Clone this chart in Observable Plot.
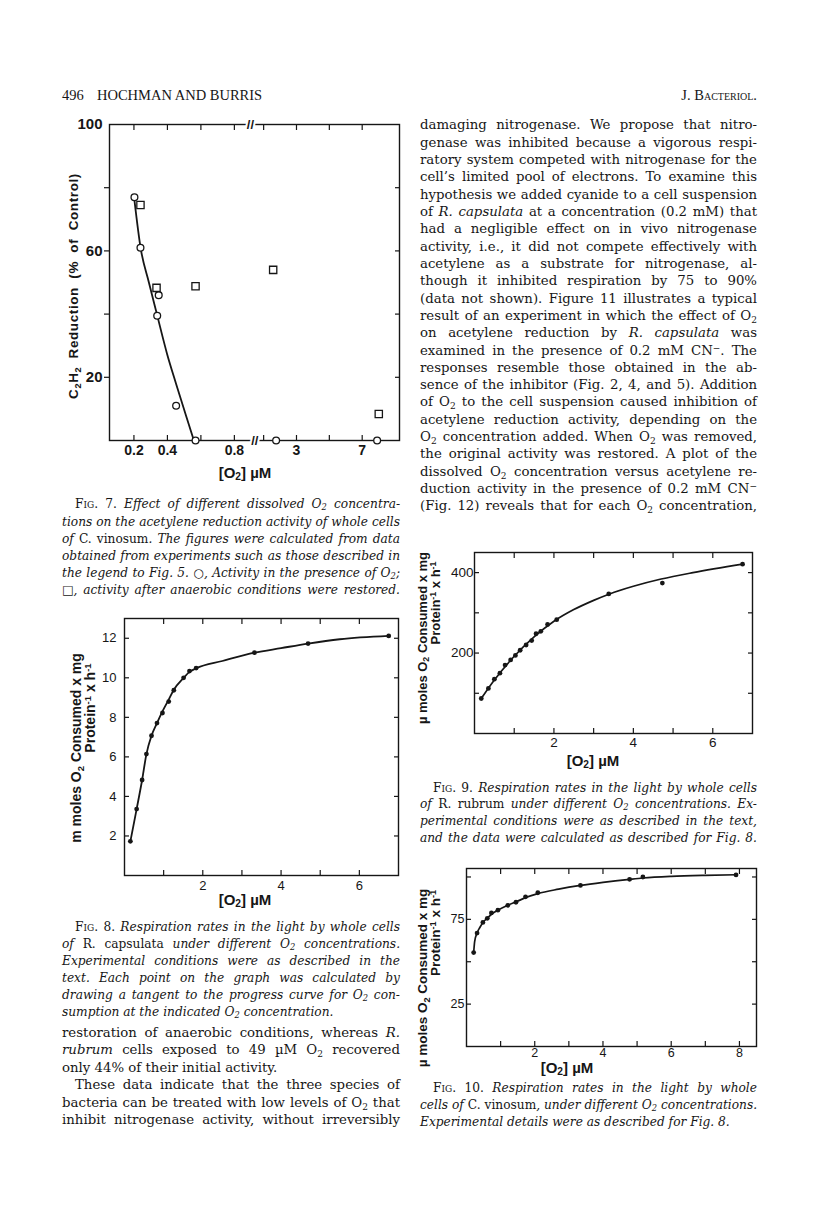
<!DOCTYPE html>
<html><head><meta charset="utf-8">
<script src="https://cdn.jsdelivr.net/npm/d3@7"></script>
<script src="https://cdn.jsdelivr.net/npm/@observablehq/plot@0.6"></script>
<style>
html,body{margin:0;padding:0;background:#fff;}
#page{position:relative;width:816px;height:1231px;overflow:hidden;background:#fff;color:#161616;}
.ln{position:absolute;white-space:nowrap;font-family:"DejaVu Serif",serif;}
.cap{font-style:italic;}
.sc{font-style:normal;font-variant:small-caps;}
.rm{font-style:normal;}
sub{font-size:0.68em;vertical-align:-0.28em;line-height:0;}
sup{font-size:0.68em;vertical-align:0.45em;line-height:0;}
.lab{position:absolute;white-space:nowrap;font-family:"Liberation Sans",Arial,sans-serif;font-weight:bold;color:#161616;line-height:1;}
.plot{position:absolute;}
</style></head><body><div id="page"></div>
<script>
// ---------------- DATA ----------------
// Fig. 7 (broken x axis)
const fig7CircleX = [0.203, 0.239, 0.339, 0.348, 0.452, 0.568, 1.76, 7.91];
const fig7CircleY = [77, 61, 39.5, 46, 11, 0, 0, 0];
const fig7SquareX = [0.239, 0.335, 0.568, 1.58, 8.01];
const fig7SquareY = [74.5, 48.3, 48.8, 54, 8.4];
const fig7CurveX = [0.203, 0.239, 0.289, 0.339, 0.398, 0.452, 0.508, 0.558];
const fig7CurveY = [76, 61.2, 50.1, 39.6, 27.4, 17.9, 8.4, 0];
const fig7XTicks = [0.2, 0.4, 0.6, 0.8, 1, 3, 5, 7];
const fig7XLabels = [0.2, 0.4, 0.8, 3, 7];
const fig7YTicks = [20, 40, 60, 80];
const fig7YLabels = [20, 60, 100];

// Fig. 8
const fig8X = [0.15, 0.31, 0.45, 0.56, 0.69, 0.83, 0.97, 1.13, 1.26, 1.51, 1.66, 1.83, 3.32, 4.69, 6.75];
const fig8Y = [1.73, 3.36, 4.83, 6.14, 7.07, 7.71, 8.22, 8.80, 9.37, 10.0, 10.34, 10.49, 11.27, 11.73, 12.12];
const fig8CurveX = [0.15, 0.31, 0.45, 0.56, 0.69, 0.83, 0.97, 1.13, 1.26, 1.51, 1.66, 1.83, 2.5, 3.32, 4.0, 4.69, 5.5, 6.75];
const fig8CurveY = [1.73, 3.36, 4.83, 6.14, 7.07, 7.71, 8.3, 8.9, 9.4, 10.0, 10.3, 10.48, 10.85, 11.27, 11.5, 11.73, 11.95, 12.12];
const fig8XTicks = [1, 2, 3, 4, 5, 6];
const fig8XLabels = [2, 4, 6];
const fig8YTicks = [2, 4, 6, 8, 10, 12];

// Fig. 9
const fig9X = [0.17, 0.35, 0.50, 0.64, 0.77, 0.91, 1.03, 1.15, 1.30, 1.44, 1.55, 1.67, 1.84, 2.07, 3.38, 4.73, 6.75];
const fig9Y = [87, 112, 135, 150, 170, 183, 194, 207, 220, 231, 248, 254, 271, 283, 347, 374, 421];
const fig9CurveX = [0.17, 0.5, 1.0, 1.5, 2.0, 2.5, 3.0, 3.4, 4.0, 4.7, 5.5, 6.75];
const fig9CurveY = [87, 133, 192, 240, 279, 308, 331, 347, 366, 384, 400, 421];
const fig9XTicks = [1, 2, 3, 4, 5, 6];
const fig9XLabels = [2, 4, 6];
const fig9YTicks = [100, 200, 300, 400];
const fig9YLabels = [200, 400];

// Fig. 10
const fig10X = [0.21, 0.31, 0.48, 0.61, 0.73, 0.92, 1.21, 1.45, 1.73, 2.09, 3.34, 4.78, 5.17, 7.9];
const fig10Y = [55.4, 66.9, 73.2, 75.6, 78.8, 80.4, 83.3, 85.1, 88.3, 90.7, 95, 98.6, 100, 101.2];
const fig10CurveX = [0.21, 0.24, 0.31, 0.4, 0.48, 0.61, 0.73, 0.92, 1.21, 1.45, 1.73, 2.09, 2.7, 3.34, 4.0, 4.78, 5.17, 6.0, 7.0, 7.9];
const fig10CurveY = [55.4, 62, 67, 70.5, 73.2, 75.6, 78, 80.4, 83.3, 85.3, 87.8, 90.2, 92.8, 95, 96.8, 98.6, 99.4, 100.4, 101, 101.3];
const fig10XTicks = [1, 2, 3, 4, 5, 6, 7, 8];
const fig10XLabels = [2, 4, 6, 8];
const fig10YTicks = [25, 50, 75, 100];
const fig10YLabels = [25, 75];

// ---------------- TEXT ----------------
const bodyRight = [
 "damaging nitrogenase. We propose that nitro-",
 "genase was inhibited because a vigorous respi-",
 "ratory system competed with nitrogenase for the",
 "cell’s limited pool of electrons. To examine this",
 "hypothesis we added cyanide to a cell suspension",
 "of <i>R. capsulata</i> at a concentration (0.2 mM) that",
 "had a negligible effect on in vivo nitrogenase",
 "activity, i.e., it did not compete effectively with",
 "acetylene as a substrate for nitrogenase, al-",
 "though it inhibited respiration by 75 to 90%",
 "(data not shown). Figure 11 illustrates a typical",
 "result of an experiment in which the effect of O<sub>2</sub>",
 "on acetylene reduction by <i>R. capsulata</i> was",
 "examined in the presence of 0.2 mM CN<sup>−</sup>. The",
 "responses resemble those obtained in the ab-",
 "sence of the inhibitor (Fig. 2, 4, and 5). Addition",
 "of O<sub>2</sub> to the cell suspension caused inhibition of",
 "acetylene reduction activity, depending on the",
 "O<sub>2</sub> concentration added. When O<sub>2</sub> was removed,",
 "the original activity was restored. A plot of the",
 "dissolved O<sub>2</sub> concentration versus acetylene re-",
 "duction activity in the presence of 0.2 mM CN<sup>−</sup>",
 "(Fig. 12) reveals that for each O<sub>2</sub> concentration,"
];
const bodyLeft = [
 ["restoration of anaerobic conditions, whereas <i>R.</i>", true, 0],
 ["<i>rubrum</i> cells exposed to 49 µM O<sub>2</sub> recovered", true, 0],
 ["only 44% of their initial activity.", false, 0],
 ["These data indicate that the three species of", true, 13],
 ["bacteria can be treated with low levels of O<sub>2</sub> that", true, 0],
 ["inhibit nitrogenase activity, without irreversibly", true, 0]
];
const fig7Caption = [
 ["<span class='sc'>Fig. 7.</span> Effect of different dissolved O<sub>2</sub> concentra-", true, 13],
 ["tions on the acetylene reduction activity of whole cells", true, 0],
 ["of <span class='rm'>C. vinosum</span>. The figures were calculated from data", true, 0],
 ["obtained from experiments such as those described in", true, 0],
 ["the legend to Fig. 5. <span class='rm'>○</span>, Activity in the presence of O<sub>2</sub>;", true, 0],
 ["<span class='rm'>□</span>, activity after anaerobic conditions were restored.", true, 0]
];
const fig8Caption = [
 ["<span class='sc'>Fig. 8.</span> Respiration rates in the light by whole cells", true, 13],
 ["of <span class='rm'>R. capsulata</span> under different O<sub>2</sub> concentrations.", true, 0],
 ["Experimental conditions were as described in the", true, 0],
 ["text. Each point on the graph was calculated by", true, 0],
 ["drawing a tangent to the progress curve for O<sub>2</sub> con-", true, 0],
 ["sumption at the indicated O<sub>2</sub> concentration.", false, 0]
];
const fig9Caption = [
 ["<span class='sc'>Fig. 9.</span> Respiration rates in the light by whole cells", true, 13],
 ["of <span class='rm'>R. rubrum</span> under different O<sub>2</sub> concentrations. Ex-", true, 0],
 ["perimental conditions were as described in the text,", true, 0],
 ["and the data were calculated as described for Fig. 8.", true, 0]
];
const fig10Caption = [
 ["<span class='sc'>Fig. 10.</span> Respiration rates in the light by whole", true, 13],
 ["cells of <span class='rm'>C. vinosum</span>, under different O<sub>2</sub> concentrations.", true, 0],
 ["Experimental details were as described for Fig. 8.", false, 0]
];

// ---------------- LAYOUT HELPERS ----------------
const page = document.getElementById("page");
function addLine(html, x, yc, w, size, lh, justify, indent, cls, family) {
  const d = document.createElement("div");
  d.className = "ln " + (cls || "");
  if (family) d.style.fontFamily = family;
  d.style.left = (x + indent) + "px";
  d.style.top = (yc - lh / 2) + "px";
  d.style.fontSize = size + "px";
  d.style.lineHeight = lh + "px";
  d.innerHTML = html;
  page.appendChild(d);
  const target = w - indent;
  const natural = d.getBoundingClientRect().width;
  if (justify) {
    const n = (d.textContent.match(/ /g) || []).length;
    if (natural <= target && n > 0) d.style.wordSpacing = ((target - natural) / n) + "px";
    else if (natural > target) { d.style.transformOrigin = "0 50%"; d.style.transform = `scaleX(${target / natural})`; }
  } else if (natural > target) {
    d.style.transformOrigin = "0 50%"; d.style.transform = `scaleX(${target / natural})`;
  }
  return d;
}
function addBlock(lines, x, y0, step, w, size, cls) {
  lines.forEach(([h, j, ind], i) => addLine(h, x, y0 + i * step, w, size, step, j, ind, cls));
}
function label(html, cx, cy, size, rotate, extra) {
  const d = document.createElement("div");
  d.className = "lab";
  d.innerHTML = html;
  d.style.left = cx + "px"; d.style.top = cy + "px"; d.style.fontSize = size + "px";
  d.style.transform = "translate(-50%,-50%)" + (rotate ? " rotate(-90deg)" : "");
  Object.assign(d.style, extra || {});
  page.appendChild(d);
}
const pts = (xs, ys) => xs.map((x, i) => ({x, y: ys[i]}));
function place(svg, left, top) {
  svg.classList.add("plot");
  svg.style.left = left + "px"; svg.style.top = top + "px";
  page.appendChild(svg);
}
const plotStyle = {fontFamily: "'Liberation Sans', Arial, sans-serif", color: "#161616", background: "transparent", overflow: "visible"};
const blank = () => "";
const plain = (d) => String(d);
function inwardAxes(xt, yt) {
  return [
    Plot.axisX({anchor: "bottom", ticks: xt, tickSize: -5, tickFormat: blank, label: null, strokeWidth: 1.2}),
    Plot.axisX({anchor: "top", ticks: xt, tickSize: -5, tickFormat: blank, label: null, strokeWidth: 1.2}),
    Plot.axisY({anchor: "left", ticks: yt, tickSize: -5, tickFormat: blank, label: null, strokeWidth: 1.2}),
    Plot.axisY({anchor: "right", ticks: yt, tickSize: -5, tickFormat: blank, label: null, strokeWidth: 1.2})
  ];
}

// ---------------- HEADER ----------------
addLine("496", 62, 95, 40, 14.5, 18, false, 0, "", "'Liberation Serif', serif");
addLine("HOCHMAN AND BURRIS", 97, 95, 200, 14.5, 18, false, 0, "", "'Liberation Serif', serif");
const jb = addLine("J. B<span style='font-variant:small-caps'>acteriol.</span>", 600, 95, 200, 14.5, 18, false, 0, "", "'Liberation Serif', serif");
jb.style.left = (757 - jb.getBoundingClientRect().width) + "px";

// ---------------- FIG 7 ----------------
const f7 = Plot.plot({
  width: 350, height: 350, marginLeft: 49, marginRight: 11, marginTop: 14, marginBottom: 20,
  style: plotStyle,
  x: {type: "linear", domain: [0.054, 0.885, 0.9, 9.29], range: [49, 188.1, 201.5, 339.3], label: null},
  y: {domain: [0, 100], label: null},
  marks: [
    Plot.frame({strokeWidth: 1.4}),
    Plot.axisX({anchor: "bottom", ticks: fig7XTicks, tickSize: -5, tickFormat: blank, label: null, strokeWidth: 1.2}),
    Plot.axisX({anchor: "top", ticks: fig7XTicks, tickSize: -5, tickFormat: blank, label: null, strokeWidth: 1.2}),
    Plot.axisY({anchor: "left", ticks: fig7YTicks, tickSize: 5, tickFormat: blank, label: null, strokeWidth: 1.2}),
    Plot.axisY({anchor: "right", ticks: fig7YTicks, tickSize: -5, tickFormat: blank, label: null, strokeWidth: 1.2}),
    Plot.axisX({anchor: "bottom", ticks: fig7XLabels, tickSize: 0, tickPadding: 5, label: null, fontSize: 14, fontWeight: "bold", tickFormat: plain}),
    Plot.axisY({anchor: "left", ticks: fig7YLabels, tickSize: 0, tickPadding: 7, label: null, fontSize: 15, fontWeight: "bold", tickFormat: plain}),
    Plot.text([{x: 0.887, y: 100}, {x: 0.892, y: 0}], {x: "x", y: "y", text: () => "//", fontSize: 13, fontWeight: "bold", fill: "#161616", stroke: "white", strokeWidth: 4}),
    Plot.line(pts(fig7CurveX, fig7CurveY), {x: "x", y: "y", curve: "monotone-x", strokeWidth: 1.8, stroke: "#161616"}),
    Plot.dot(pts(fig7CircleX, fig7CircleY), {x: "x", y: "y", r: 3.4, stroke: "#161616", strokeWidth: 1.3, fill: "white"}),
    Plot.dot(pts(fig7SquareX, fig7SquareY), {x: "x", y: "y", symbol: "square", r: 4.1, stroke: "#161616", strokeWidth: 1.3, fill: "white"})
  ]
});
place(f7, 60, 110);
label("C<sub>2</sub>H<sub>2</sub> Reduction (% of Control)", 74, 286, 13.5, true, {letterSpacing: "0.6px", wordSpacing: "4px", fontWeight: "600"});
label("[O<sub>2</sub>] µM", 245, 472, 15, false);

// ---------------- FIG 8 ----------------
const f8 = Plot.plot({
  width: 345, height: 300, marginLeft: 64, marginRight: 7, marginTop: 18, marginBottom: 25,
  style: plotStyle,
  x: {domain: [0, 7], label: null},
  y: {domain: [0, 13], label: null},
  marks: [
    Plot.frame({strokeWidth: 1.4}),
    ...inwardAxes(fig8XTicks, fig8YTicks),
    Plot.axisX({anchor: "bottom", ticks: fig8XLabels, tickSize: 0, tickPadding: 5, label: null, fontSize: 13, tickFormat: plain}),
    Plot.axisY({anchor: "left", ticks: fig8YTicks, tickSize: 0, tickPadding: 8, label: null, fontSize: 13, tickFormat: plain}),
    Plot.line(pts(fig8CurveX, fig8CurveY), {x: "x", y: "y", curve: "monotone-x", strokeWidth: 1.8, stroke: "#161616"}),
    Plot.dot(pts(fig8X, fig8Y), {x: "x", y: "y", r: 2.4, fill: "#161616"})
  ]
});
place(f8, 60, 600);
label("m moles O<sub>2</sub> Consumed x mg", 76, 748, 14, true);
label("Protein<sup>-1</sup> x h<sup>-1</sup>", 90, 708, 14, true);
label("[O<sub>2</sub>] µM", 245, 899, 15, false);

// ---------------- FIG 9 ----------------
const f9 = Plot.plot({
  width: 355, height: 215, marginLeft: 69, marginRight: 8, marginTop: 12, marginBottom: 22,
  style: plotStyle,
  x: {domain: [0, 7], label: null},
  y: {domain: [0, 450], label: null},
  marks: [
    Plot.frame({strokeWidth: 1.4}),
    ...inwardAxes(fig9XTicks, fig9YTicks),
    Plot.axisX({anchor: "bottom", ticks: fig9XLabels, tickSize: 0, tickPadding: 4, label: null, fontSize: 13.5, tickFormat: plain}),
    Plot.axisY({anchor: "left", ticks: fig9YLabels, tickSize: 0, tickPadding: 1, label: null, fontSize: 13.5, tickFormat: plain}),
    Plot.line(pts(fig9CurveX, fig9CurveY), {x: "x", y: "y", curve: "monotone-x", strokeWidth: 1.7, stroke: "#161616"}),
    Plot.dot(pts(fig9X, fig9Y), {x: "x", y: "y", r: 2.4, fill: "#161616"})
  ]
});
place(f9, 405, 540);
label("µ moles O<sub>2</sub> Consumed x mg", 422, 638, 13, true);
label("Protein<sup>-1</sup> x h<sup>-1</sup>", 435, 603, 13, true);
label("[O<sub>2</sub>] µM", 593, 760, 15, false);

// ---------------- FIG 10 ----------------
const f10 = Plot.plot({
  width: 360, height: 215, marginLeft: 61, marginRight: 9, marginTop: 13, marginBottom: 24,
  style: plotStyle,
  x: {domain: [0, 8.5], label: null},
  y: {domain: [0, 105], label: null},
  marks: [
    Plot.frame({strokeWidth: 1.4}),
    ...inwardAxes(fig10XTicks, fig10YTicks),
    Plot.axisX({anchor: "bottom", ticks: fig10XLabels, tickSize: 0, tickPadding: 2, label: null, fontSize: 12.5, tickFormat: plain}),
    Plot.axisY({anchor: "left", ticks: fig10YLabels, tickSize: 0, tickPadding: 2, label: null, fontSize: 12.5, tickFormat: plain}),
    Plot.line(pts(fig10CurveX, fig10CurveY), {x: "x", y: "y", curve: "monotone-x", strokeWidth: 1.7, stroke: "#161616"}),
    Plot.dot(pts(fig10X, fig10Y), {x: "x", y: "y", r: 2.4, fill: "#161616"})
  ]
});
place(f10, 405, 855);
label("µ moles O<sub>2</sub> Consumed x mg", 423, 978, 13.5, true);
label("Protein<sup>-1</sup> x h<sup>-1</sup>", 436, 933, 13.5, true);
label("[O<sub>2</sub>] µM", 567, 1067, 15, false);

// ---------------- TEXT BLOCKS ----------------
bodyRight.forEach((h, i) => addLine(h, 420, 125 + i * 17.32, 337, 13.3, 17.3, true, 0, ""));
addBlock(bodyLeft, 62, 1032.7, 17.5, 338, 13.3, "");
addBlock(fig7Caption, 62, 505, 17.15, 338, 12.2, "cap");
addBlock(fig8Caption, 62, 927.7, 17.0, 338, 12.2, "cap");
addBlock(fig9Caption, 420, 788, 16.8, 337, 12.2, "cap");
addBlock(fig10Caption, 420, 1088, 17.0, 337, 12.2, "cap");
</script></body></html>
